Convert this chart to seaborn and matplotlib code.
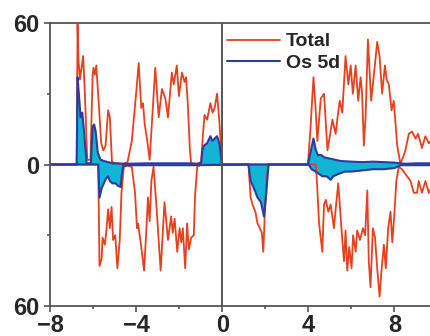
import numpy as np
import matplotlib
matplotlib.use("Agg")
import matplotlib.pyplot as plt
import seaborn as sns
from matplotlib.ticker import FixedLocator, FixedFormatter

# energia (eV) e DOS
up_total_e = [-8.0, -6.76, -6.72, -6.68, -6.61, -6.52, -6.46, -6.38, -6.27, -6.12,
              -6.02, -5.98, -5.92, -5.85, -5.75, -5.62, -5.52, -5.42, -5.30, -5.22,
              -5.12, -4.9, -4.6, -4.4, -4.2, -4.0, -3.88, -3.76, -3.68, -3.60,
              -3.48, -3.37, -3.25, -3.11, -2.95, -2.80, -2.64, -2.52, -2.34, -2.25,
              -2.11, -2.01, -1.87, -1.75, -1.68, -1.60, -1.50, -1.44, -1.2, -0.98,
              -0.90, -0.82, -0.70, -0.55, -0.45, -0.35, -0.24, -0.13, -0.02, 0.0,
              3.98, 4.1, 4.24, 4.33, 4.42, 4.58, 4.73, 4.89, 5.0, 5.12,
              5.27, 5.36, 5.46, 5.58, 5.66, 5.73, 5.86, 5.97, 6.07, 6.2,
              6.32, 6.43, 6.50, 6.58, 6.66, 6.77, 6.92, 7.08, 7.2, 7.31,
              7.43, 7.56, 7.64, 7.74, 7.87, 7.97, 8.13, 8.28, 8.40, 8.51,
              8.67, 8.82, 8.98, 9.10, 9.28, 9.44, 9.6, 9.7]
up_total = [0, 0, 59.5, 45, 36, 42, 46, 30, 2, 2,
            38, 41, 38, 42, 28, 9, 6, 8, 23, 20,
            1, 0.5, 0.3, 1, 10, 30, 43, 24, 26, 17,
            10, 2, 20, 41, 20, 32, 28, 20, 39, 34,
            42, 29, 39, 35, 37, 26, 6, 0.5, 0.3, 1,
            12, 21, 19, 26, 22, 24, 30, 18, 1, 0,
            0, 15, 37, 25, 10, 28, 30, 6, 12, 19,
            13, 20, 27, 22, 35, 46, 34, 42, 30, 42,
            27, 37, 30, 8, 20, 53, 27, 41, 52, 46,
            30, 42, 36, 34, 23, 27, 8, 0.3, 3, 6,
            13, 14, 11, 13, 7, 12, 9, 10]

up_os_e = [-8.0, -6.76, -6.72, -6.66, -6.58, -6.50, -6.42, -6.30, -6.10, -6.02,
           -5.95, -5.88, -5.78, -5.65, -5.50, -5.30, -5.10, -4.5, -3.5, -2.5,
           -1.5, -1.2, -0.98, -0.92, -0.85, -0.70, -0.55, -0.45, -0.35, -0.24,
           -0.13, -0.02, 0.0, 3.98, 4.1, 4.24, 4.35, 4.45, 4.6, 4.75,
           5.0, 5.5, 6.0, 6.5, 7.0, 7.5, 8.0, 8.5, 9.0, 9.7]
up_os = [0, 0, 37, 30, 20, 22, 14, 0.5, 0.5, 16,
         17, 14, 5, 2, 1.5, 1, 0.5, 0.3, 0.5, 0.5,
         0.5, 0.3, 0.5, 6, 8, 9, 12, 10, 11, 12,
         9, 0.5, 0, 0, 5, 11, 6, 4, 4, 3,
         2.5, 1.5, 1.2, 1.0, 1.2, 1.0, 0.8, 0.3, 0.5, 0.5]

dn_total_e = [-8.0, -5.76, -5.70, -5.60, -5.56, -5.45, -5.38, -5.30, -5.22, -5.14,
              -5.07, -4.97, -4.87, -4.76, -4.68, -4.57, -4.40, -4.20, -4.05, -3.96,
              -3.91, -3.76, -3.63, -3.52, -3.45, -3.37, -3.29, -3.19, -3.06, -2.86,
              -2.68, -2.52, -2.37, -2.30, -2.21, -2.09, -1.98, -1.90, -1.83, -1.72,
              -1.63, -1.55, -1.44, -1.32, -1.26, -1.16, -1.0, 1.22, 1.32, 1.41,
              1.54, 1.64, 1.75, 1.84, 1.91, 1.97, 2.06, 2.15, 4.35, 4.40,
              4.50, 4.65, 4.73, 4.81, 4.93, 5.04, 5.19, 5.27, 5.39, 5.50,
              5.58, 5.66, 5.73, 5.81, 5.90, 6.01, 6.08, 6.20, 6.27, 6.40,
              6.54, 6.64, 6.74, 6.81, 6.89, 7.00, 7.10, 7.20, 7.31, 7.40,
              7.51, 7.60, 7.71, 7.82, 7.90, 7.99, 8.09, 8.20, 8.35, 8.59,
              8.75, 8.90, 9.05, 9.13, 9.28, 9.44, 9.6, 9.7]
dn_total = [0, 0, -43, -40, -31, -34, -28, -19, -27, -18,
            -32, -30, -44, -32, -12, -1, -0.5, -1, -12, -27,
            -25, -35, -45, -27, -14, -24, -7, -1, -17, -45,
            -16, -32, -22, -29, -23, -37, -27, -33, -27, -44,
            -25, -36, -31, -30, -13, -1, 0, 0, -14, -17,
            -20, -25, -27, -29, -37, -23, -6, 0, 0, -7,
            -25, -37, -17, -15, -20, -17, -27, -19, -8, -22,
            -32, -41, -28, -45, -35, -44, -30, -37, -28, -32,
            -27, -30, -11, -41, -52, -27, -31, -44, -56, -45,
            -34, -44, -27, -20, -33, -22, -7, -1, -2, -5,
            -7, -12, -12, -7, -12, -7, -12, -10]

dn_os_e = [-8.0, -5.76, -5.70, -5.60, -5.50, -5.40, -5.30, -5.22, -5.10, -4.95,
           -4.85, -4.72, -4.66, -4.60, -4.4, -1.2, 1.22, 1.32, 1.47, 1.64,
           1.80, 1.94, 2.05, 2.15, 4.02, 4.15, 4.35, 4.50, 4.65, 4.85,
           5.04, 5.15, 5.40, 5.70, 6.0, 6.5, 7.0, 7.5, 8.0, 8.3,
           9.0, 9.7]
dn_os = [0, 0, -14, -10, -8, -6, -5, -7, -8, -8,
         -9, -9.5, -4, -0.5, -0.3, -0.3, 0, -7, -10, -14,
         -16, -22, -12, 0, 0, -2, -3, -4, -5, -5,
         -6.5, -5, -4, -3, -3, -2.5, -2, -2, -1.5, -0.3,
         -0.3, -0.3]

vermelho = '#e8401e'
azul = '#2c3c9c'
ciano = '#12b4d6'
cinza = '#555555'

sns.set_style('white')
plt.rcParams['font.family'] = ['Liberation Sans', 'DejaVu Sans']
plt.rcParams['font.weight'] = 'bold'

fig = plt.figure(figsize=(4.31, 3.36), dpi=100)
ax = fig.add_axes([50/431, 30/336, 381/431, 283/336])

sns.lineplot(x=up_total_e, y=up_total, color=vermelho, lw=1.3, ax=ax, label='Total')
sns.lineplot(x=dn_total_e, y=dn_total, color=vermelho, lw=1.3, ax=ax)
ax.fill_between(up_os_e, up_os, 0, color=ciano, lw=0)
ax.fill_between(dn_os_e, dn_os, 0, color=ciano, lw=0)
sns.lineplot(x=up_os_e, y=up_os, color=azul, lw=1.5, ax=ax, label='Os 5d')
sns.lineplot(x=dn_os_e, y=dn_os, color=azul, lw=1.5, ax=ax)
ax.axvline(0, color=cinza, lw=1.4)

ax.set_xlim(-8, 9.7)
ax.set_ylim(-60, 60)
ax.xaxis.set_major_locator(FixedLocator([-8, -4, 0, 4, 8]))
ax.xaxis.set_minor_locator(FixedLocator([-6, -2, 2, 6]))
ax.yaxis.set_major_locator(FixedLocator([-60, 0, 60]))
ax.yaxis.set_major_formatter(FixedFormatter(['60', '0', '60']))
ax.yaxis.set_minor_locator(FixedLocator([-30, 30]))
ax.tick_params(which='major', direction='out', length=4, width=1.2, color=cinza,
               labelsize=17, pad=4, bottom=True, left=True)
ax.tick_params(axis='x', which='major', pad=1.5)
ax.tick_params(which='minor', direction='out', length=2, width=1.2, color=cinza,
               bottom=True, left=True)
for lbl in ax.get_xticklabels() + ax.get_yticklabels():
    lbl.set_fontweight('bold')

ax.spines['right'].set_visible(False)
for s in ['left', 'bottom', 'top']:
    ax.spines[s].set_color(cinza)
    ax.spines[s].set_linewidth(1.3)

ax.legend(loc='upper left', bbox_to_anchor=(0.44, 1.0), frameon=False,
          prop={'size': 14, 'weight': 'bold'}, handlelength=2.7,
          handletextpad=0.3, labelspacing=0.2, borderaxespad=0.2, borderpad=0.3)

fig.savefig('out.png', dpi=100)
